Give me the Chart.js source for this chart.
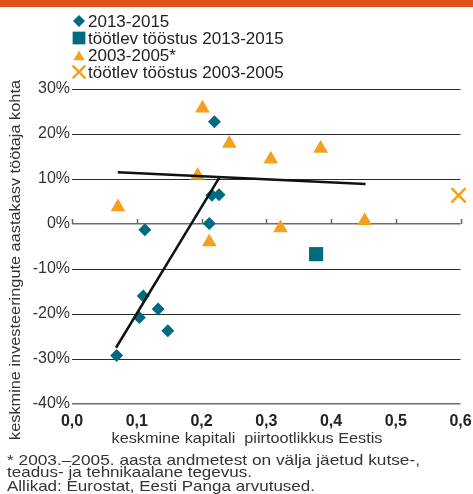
<!DOCTYPE html>
<html>
<head>
<meta charset="utf-8">
<script src="https://cdn.jsdelivr.net/npm/chart.js@4/dist/chart.umd.min.js"></script>
<style>
html, body { margin: 0; padding: 0; background: #fff; }
canvas { display: block; }
</style>
</head>
<body>
<canvas id="chart" width="473" height="494"></canvas>
<script>
// tick labels
const xTickLabels = ['0,0', '0,1', '0,2', '0,3', '0,4', '0,5', '0,6'];
const yTickLabels = ['-40%', '-30%', '-20%', '-10%', '0%', '10%', '20%', '30%'];

// 2013-2015 (diamonds)
const dia2013X = [0.220, 0.216, 0.227, 0.212, 0.1125, 0.110, 0.104, 0.133, 0.148, 0.069];
const dia2013Y = [22.7, 6.4, 6.5, 0.1, -1.3, -16.0, -20.8, -18.9, -23.7, -29.2];
// töötlev tööstus 2013-2015 (square)
const mfg2013X = [0.377];
const mfg2013Y = [-6.7];
// 2003-2005* (triangles)
const tri2003X = [0.2015, 0.243, 0.194, 0.071, 0.212, 0.307, 0.384, 0.322, 0.452];
const tri2003Y = [25.7, 17.9, 10.8, 3.8, -4.0, 14.4, 16.8, -0.9, 0.7];
// töötlev tööstus 2003-2005 (cross)
const mfg2003X = [0.597];
const mfg2003Y = [6.4];
// trend lines
const trend2013X = [0.068, 0.2275];
const trend2013Y = [-27.5, 10.3];
const trend2003X = [0.0707, 0.4534];
const trend2003Y = [11.5, 8.9];

const footnotes = [
    '* 2003.\u20132005. aasta andmetest on välja jäetud kutse-,',
    'teadus- ja tehnikaalane tegevus.',
    'Allikad: Eurostat, Eesti Panga arvutused.'
];
const xTitle = 'keskmine kapitali  piirtootlikkus Eestis';
const yTitle = 'keskmine investeeringute aastakasv töötaja kohta';

const teal = '#006b80';
const orange = '#f5a01e';
const FONT = '"Liberation Sans", Arial, sans-serif';

function pts(xs, ys) {
    return xs.map((x, i) => ({ x: x, y: ys[i] }));
}

// text in the original is a bit wider than Liberation Sans, so stretch it to the measured width
function wideText(ctx, text, x, y, width, align) {
    const w = ctx.measureText(text).width;
    const k = width / w;
    ctx.save();
    ctx.translate(x, y);
    ctx.scale(k, 1);
    ctx.textAlign = align;
    ctx.fillText(text, 0, 0);
    ctx.restore();
}

Chart.defaults.font.family = FONT;
Chart.defaults.color = '#333';

const extras = {
    id: 'extras',
    beforeDatasetsDraw(chart) {
        const ctx = chart.ctx;
        const x = chart.scales.x, y = chart.scales.y;
        const y0 = Math.round(y.getPixelForValue(0));
        ctx.save();
        ctx.strokeStyle = '#666';
        ctx.lineWidth = 1.5;
        x.ticks.forEach(t => {
            const px = Math.round(x.getPixelForValue(t.value)) + 0.5;
            ctx.beginPath();
            ctx.moveTo(px, y0);
            ctx.lineTo(px, y0 - 5);
            ctx.stroke();
        });
        ctx.restore();
    },
    afterDraw(chart) {
        const ctx = chart.ctx;
        ctx.save();
        // orange top bar
        ctx.fillStyle = '#e0521a';
        ctx.fillRect(0, 0, chart.width, 7);

        // legend
        const legendSizes = [6, 9, 6.5, 9];
        ctx.font = '17px ' + FONT;
        ctx.textBaseline = 'alphabetic';
        chart.data.datasets.filter(d => d.inLegend).forEach((d, i) => {
            const cy = 21 + i * 17;
            ctx.fillStyle = d.backgroundColor;
            ctx.strokeStyle = d.borderColor;
            ctx.lineWidth = d.borderWidth || 0;
            Chart.helpers.drawPoint(ctx, {
                pointStyle: d.pointStyle,
                radius: legendSizes[i],
                rotation: 0,
                borderWidth: d.borderWidth || 0
            }, 79, d.pointStyle === 'triangle' ? cy + 2 : cy);
            ctx.fillStyle = '#222';
            ctx.fillText(d.label, 88, cy + 6);
        });

        // axis titles
        ctx.fillStyle = '#333';
        ctx.font = '15px ' + FONT;
        wideText(ctx, xTitle, 247, 443, 271, 'center');
        ctx.save();
        ctx.translate(20, 260);
        ctx.rotate(-Math.PI / 2);
        wideText(ctx, yTitle, 0, 0, 360, 'center');
        ctx.restore();

        // footnotes
        wideText(ctx, footnotes[0], 7, 465, 413, 'left');
        wideText(ctx, footnotes[1], 7, 477, 245, 'left');
        wideText(ctx, footnotes[2], 7, 491, 308, 'left');
        ctx.restore();
    }
};

new Chart(document.getElementById('chart').getContext('2d'), {
    type: 'scatter',
    data: {
        datasets: [
            {
                label: 'trend 2013-2015',
                data: pts(trend2013X, trend2013Y),
                showLine: true,
                borderColor: '#111',
                borderWidth: 2.5,
                pointRadius: 0,
                clip: false
            },
            {
                label: 'trend 2003-2005',
                data: pts(trend2003X, trend2003Y),
                showLine: true,
                borderColor: '#111',
                borderWidth: 2.5,
                pointRadius: 0,
                clip: false
            },
            {
                label: '2013-2015',
                inLegend: true,
                data: pts(dia2013X, dia2013Y),
                pointStyle: 'rectRot',
                pointRadius: 6.5,
                backgroundColor: teal,
                borderColor: teal,
                borderWidth: 0,
                clip: false
            },
            {
                label: 'töötlev tööstus 2013-2015',
                inLegend: true,
                data: pts(mfg2013X, mfg2013Y),
                pointStyle: 'rect',
                pointRadius: 10,
                backgroundColor: teal,
                borderColor: teal,
                borderWidth: 0,
                clip: false
            },
            {
                label: '2003-2005*',
                inLegend: true,
                data: pts(tri2003X, tri2003Y),
                pointStyle: 'triangle',
                pointRadius: 8.5,
                backgroundColor: orange,
                borderColor: orange,
                borderWidth: 0,
                clip: false
            },
            {
                label: 'töötlev tööstus 2003-2005',
                inLegend: true,
                data: pts(mfg2003X, mfg2003Y),
                pointStyle: 'crossRot',
                pointRadius: 10,
                backgroundColor: 'rgba(0,0,0,0)',
                borderColor: orange,
                borderWidth: 2.5,
                clip: false
            }
        ]
    },
    options: {
        responsive: false,
        animation: false,
        events: [],
        layout: {
            padding: { top: 89, left: 0, right: 8, bottom: 49 }
        },
        plugins: {
            legend: { display: false },
            tooltip: { enabled: false }
        },
        scales: {
            x: {
                type: 'linear',
                min: 0,
                max: 0.6,
                grid: { display: false },
                border: { display: false },
                ticks: {
                    stepSize: 0.1,
                    padding: 0,
                    color: '#222',
                    font: { size: 16, weight: 'bold' },
                    callback: function (value, index) {
                        return xTickLabels[index];
                    }
                },
                afterFit: function (scale) {
                    scale.height = 41;
                    scale.paddingLeft = 0;
                    scale.paddingRight = 0;
                }
            },
            y: {
                type: 'linear',
                min: -40,
                max: 30,
                border: { display: false },
                grid: {
                    drawTicks: false,
                    color: function (c) {
                        return (c.tick && (c.tick.value === 0 || c.tick.value === -40)) ? '#6e6e6e' : '#2b2b2b';
                    },
                    lineWidth: function (c) {
                        return (c.tick && (c.tick.value === 0 || c.tick.value === -40)) ? 1.6 : 1;
                    }
                },
                ticks: {
                    stepSize: 10,
                    padding: 2,
                    color: '#333',
                    font: { size: 16 },
                    callback: function (value, index) {
                        return yTickLabels[index];
                    }
                },
                afterFit: function (scale) {
                    scale.width = 72;
                }
            }
        }
    },
    plugins: [extras]
});
</script>
</body>
</html>
